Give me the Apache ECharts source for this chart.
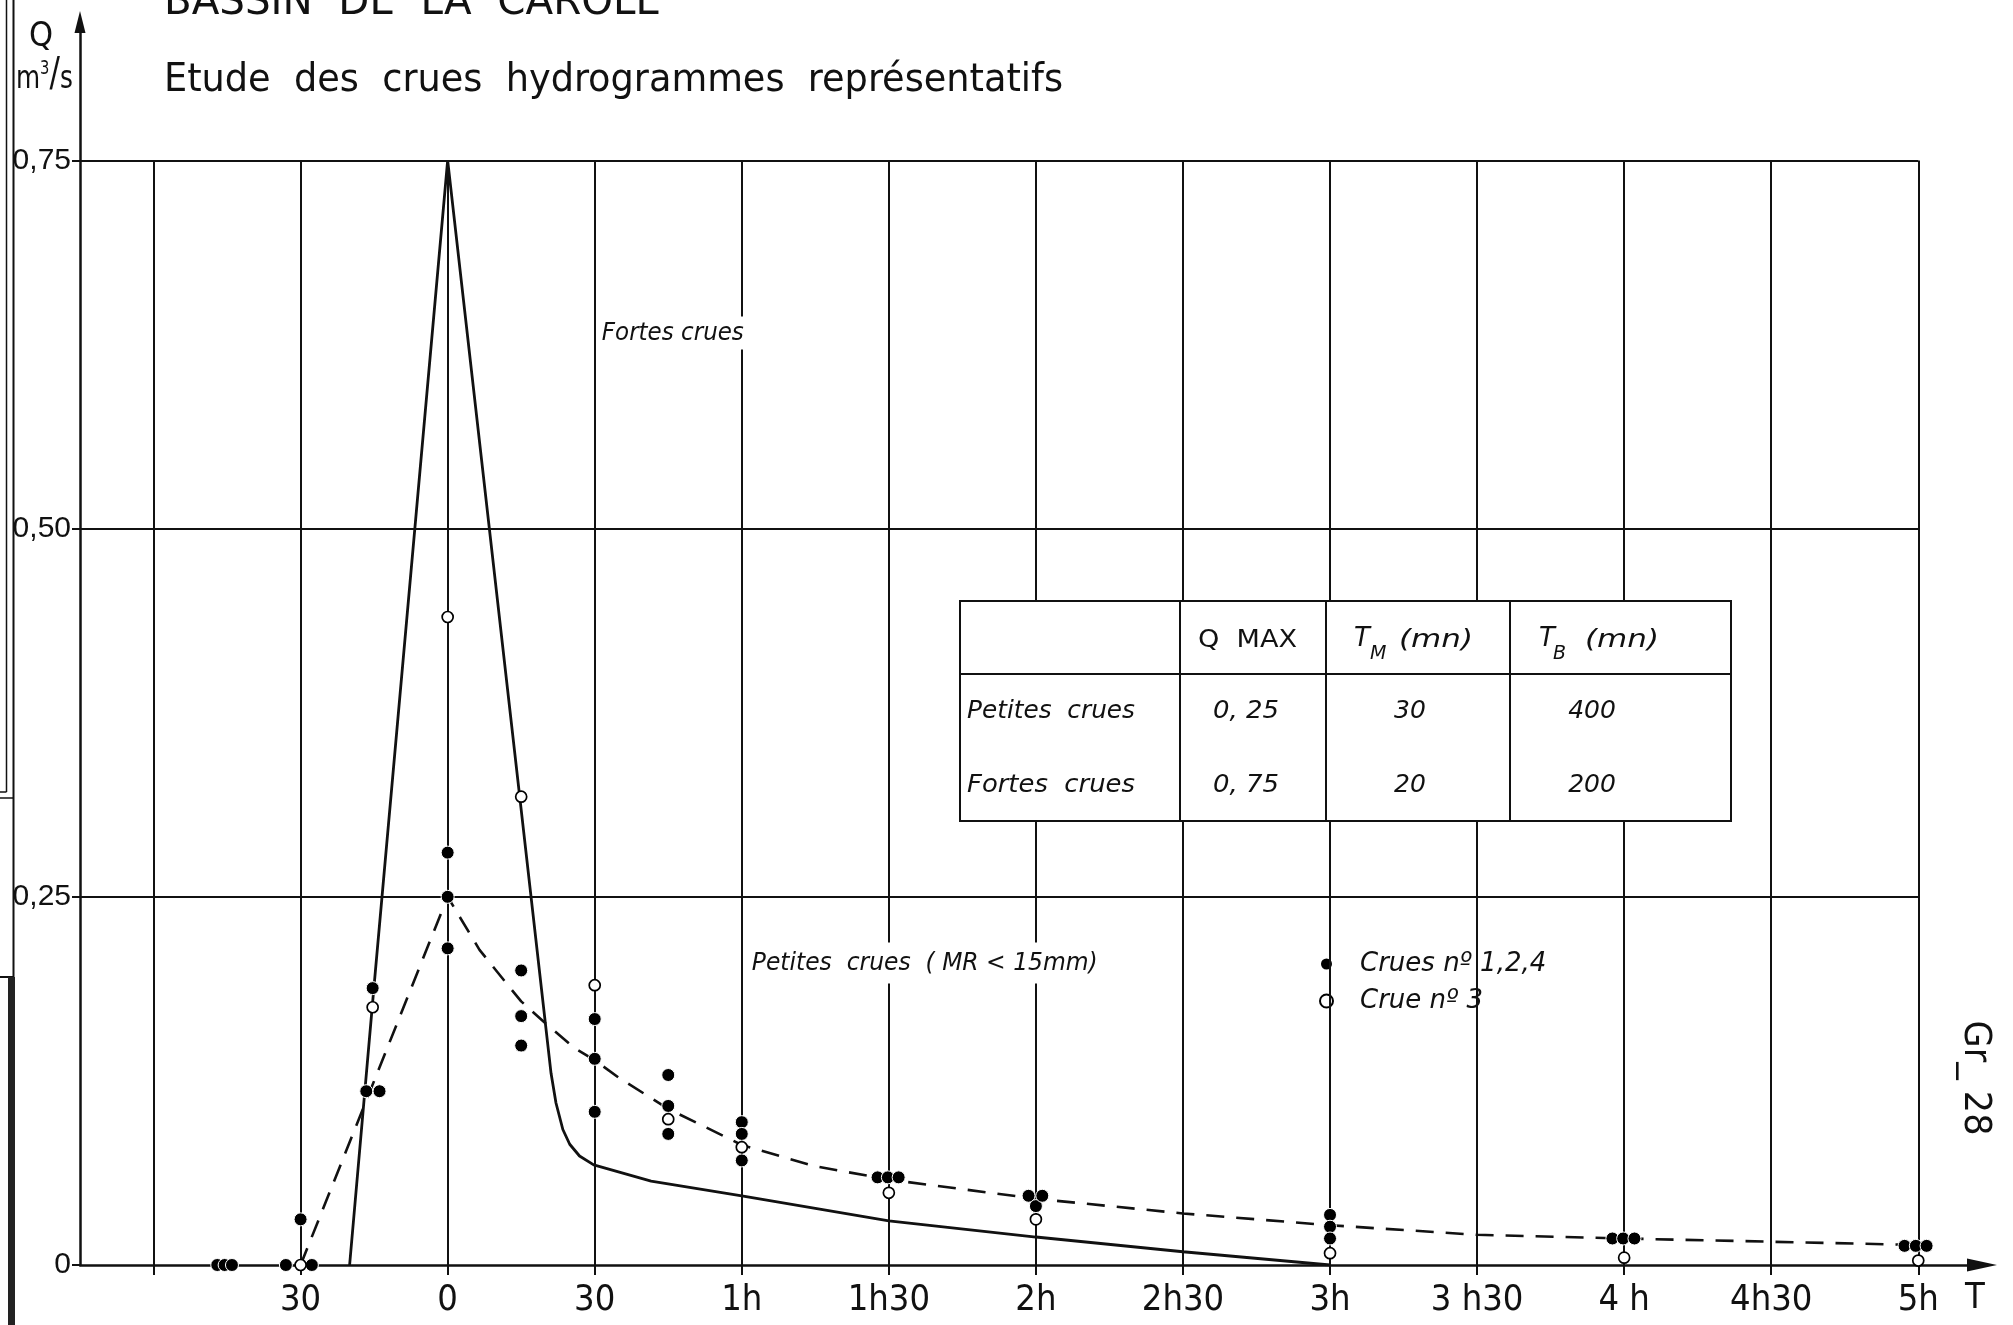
<!DOCTYPE html>
<html>
<head>
<meta charset="utf-8">
<script src="https://cdn.jsdelivr.net/npm/echarts@6/dist/echarts.min.js"></script>
<style>
  html, body { margin: 0; padding: 0; background: #fff; }
  #chart { width: 2013px; height: 1325px; }
</style>
</head>
<body>
<div id="chart"></div>
<script>
// Time axis in minutes relative to the peak, discharge Q in m3/s
const xMin = -75, xMax = 313;
const gridMinutes = [-60, -30, 0, 30, 60, 90, 120, 150, 180, 210, 240, 270, 300];
const tickMinutes = [-30, 0, 30, 60, 90, 120, 150, 180, 210, 240, 270, 300];
const tickLabels = ['30', '0', '30', '1h', '1h30', '2h', '2h30', '3h', '3 h30', '4 h', '4h30', '5h'];
const qTicks = [0, 0.25, 0.5, 0.75];
const qLabels = ['0', '0,25', '0,50', '0,75'];
const yMax = 0.844;

// Representative hydrograph, large floods (solid)
const fortesT = [-20, -15, 0, 21.1, 22.1, 23.5, 24.9, 26.9, 29.8, 41.5, 60, 90, 120, 150, 180];
const fortesQ = [0, 0.19, 0.75, 0.13, 0.11, 0.092, 0.082, 0.074, 0.068, 0.057, 0.047, 0.030, 0.019, 0.009, 0];

// Representative hydrograph, small floods (dashed)
const petitesT = [-30, 0, 6.5, 12.3, 15, 20, 26, 30, 35, 45, 60, 75, 90, 120, 150, 180, 210, 240, 270, 300];
const petitesQ = [0, 0.25, 0.214, 0.19, 0.179, 0.164, 0.147, 0.139, 0.127, 0.106, 0.0815, 0.067, 0.058, 0.045, 0.035, 0.027, 0.0205, 0.018, 0.0158, 0.0136];

// Observed floods no 1, 2, 4 (filled dots)
const crues124T = [-47, -45.5, -44, -33, -30, -27.7, -16.6, -15.3, -13.9, 0, 0, 0, 15, 15, 15, 30, 30, 30,
  45, 45, 45, 60, 60, 60, 87.7, 89.8, 92, 118.5, 120, 121.3, 180, 180, 180, 237.6, 239.8, 242.1, 297.2, 299.5, 301.7];
const crues124Q = [0, 0, 0, 0, 0.031, 0, 0.118, 0.188, 0.118, 0.280, 0.250, 0.215, 0.200, 0.169, 0.149, 0.167, 0.140, 0.104,
  0.129, 0.108, 0.089, 0.097, 0.089, 0.071, 0.0595, 0.0595, 0.0595, 0.047, 0.040, 0.047, 0.034, 0.026, 0.018, 0.018, 0.018, 0.018, 0.013, 0.013, 0.013];

// Observed flood no 3 (open dots)
const crue3T = [-30, -15.3, 0, 15, 30, 45, 60, 90, 120, 180, 240, 300];
const crue3Q = [0, 0.175, 0.44, 0.318, 0.19, 0.099, 0.080, 0.049, 0.031, 0.008, 0.005, 0.003];

// Summary table
const tableHead = ['Q  MAX', 'T', 'M', '(mn)', 'T', 'B', '(mn)'];
const tableRows = ['Petites  crues', 'Fortes  crues'];
const tableQmax = ['0, 25', '0, 75'];
const tableTm = ['30', '20'];
const tableTb = ['400', '200'];

const zip = (a, b) => a.map((v, i) => [v, b[i]]);

const NARROW = '"Liberation Sans Narrow", "DejaVu Sans Condensed", sans-serif';
const ITAL = '"DejaVu Sans", "Liberation Sans", sans-serif';
const INK = '#111';

const measureCtx = document.createElement('canvas').getContext('2d');
function fitScale(text, font, target) {
  measureCtx.font = font;
  return target / measureCtx.measureText(text).width;
}
function label(text, x, y, o) {
  const font = (o.italic ? 'italic ' : '') + o.size + 'px ' + o.family;
  const el = {
    type: 'text', x: x, y: y, z: 100,
    rotation: o.rotation || 0,
    scaleX: o.width ? fitScale(text, font, o.width) : 1,
    style: {
      text: text, font: font, fill: INK,
      align: o.align || 'left', verticalAlign: o.valign || 'middle',
      textAlign: o.align || 'left', textVerticalAlign: o.valign || 'middle'
    }
  };
  if (o.bg) { el.style.backgroundColor = o.bg; el.style.padding = o.pad || [3, 3]; }
  return el;
}
function seg(x1, y1, x2, y2, w, c) {
  return { type: 'line', z: 100, shape: { x1, y1, x2, y2 }, style: { stroke: c || INK, lineWidth: w } };
}

// Grid lines drawn as mark lines
const gridData = [];
gridMinutes.forEach(m => gridData.push([{ coord: [m, 0] }, { coord: [m, qTicks[qTicks.length - 1]] }]));
qTicks.slice(1).forEach(q => gridData.push([{ coord: [xMin, q] }, { coord: [gridMinutes[gridMinutes.length - 1], q] }]));

// Table geometry
const tb = { x: 960, y: 601, w: 771, h: 220, cols: [1180, 1326, 1510], head: 674 };
const rowY = [711.5, 785];
const tableEls = [
  { type: 'rect', z: 99, shape: { x: tb.x, y: tb.y, width: tb.w, height: tb.h }, style: { fill: '#fff', stroke: INK, lineWidth: 2 } },
  seg(tb.cols[0], tb.y, tb.cols[0], tb.y + tb.h, 2),
  seg(tb.cols[1], tb.y, tb.cols[1], tb.y + tb.h, 2),
  seg(tb.cols[2], tb.y, tb.cols[2], tb.y + tb.h, 2),
  seg(tb.x, tb.head, tb.x + tb.w, tb.head, 2),
  label(tableHead[0], 1198, 640, { size: 25, family: ITAL, width: 99 }),
  label(tableHead[1], 1354, 639, { size: 26, family: ITAL, italic: true }),
  label(tableHead[2], 1370, 654, { size: 19, family: ITAL, italic: true }),
  label(tableHead[3], 1399, 640, { size: 25, family: ITAL, italic: true, width: 74 }),
  label(tableHead[4], 1539, 639, { size: 26, family: ITAL, italic: true }),
  label(tableHead[5], 1553, 654, { size: 19, family: ITAL, italic: true }),
  label(tableHead[6], 1585, 640, { size: 25, family: ITAL, italic: true, width: 74 })
];
tableRows.forEach((r, i) => {
  tableEls.push(label(r, 967, rowY[i], { size: 25, family: ITAL, italic: true, width: 168 }));
  tableEls.push(label(tableQmax[i], 1246, rowY[i], { size: 25, family: ITAL, italic: true, align: 'center', width: 66 }));
  tableEls.push(label(tableTm[i], 1410, rowY[i], { size: 25, family: ITAL, italic: true, align: 'center' }));
  tableEls.push(label(tableTb[i], 1592, rowY[i], { size: 25, family: ITAL, italic: true, align: 'center' }));
});

const chart = echarts.init(document.getElementById('chart'), null, { renderer: 'canvas' });
chart.setOption({
  animation: false,
  backgroundColor: '#fff',
  grid: { left: 80, right: 31, top: 22, bottom: 60, containLabel: false },
  xAxis: {
    type: 'value', min: xMin, max: xMax,
    axisLine: { show: true, onZero: false, symbol: ['none', 'triangle'], symbolSize: [13, 30], lineStyle: { color: INK, width: 2.5 } },
    axisTick: { show: true, customValues: gridMinutes, length: 10, lineStyle: { color: INK, width: 2 } },
    axisLabel: {
      customValues: tickMinutes, margin: 18,
      formatter: v => tickLabels[tickMinutes.indexOf(v)],
      fontFamily: NARROW, fontSize: 36, color: INK
    },
    splitLine: { show: false }
  },
  yAxis: {
    type: 'value', min: 0, max: yMax,
    axisLine: { show: true, onZero: false, symbol: ['none', 'triangle'], symbolSize: [11, 22], lineStyle: { color: INK, width: 2.5 } },
    axisTick: { show: true, customValues: qTicks, length: 8, lineStyle: { color: INK, width: 2 } },
    axisLabel: {
      customValues: qTicks, margin: 9,
      formatter: v => qLabels[qTicks.indexOf(v)],
      fontFamily: '"Liberation Sans", Arial, sans-serif', fontSize: 30, color: INK
    },
    splitLine: { show: false }
  },
  legend: {
    orient: 'vertical', left: 1319, top: 950, padding: 0, itemGap: 9,
    itemWidth: 13, itemHeight: 13,
    data: [{ name: 'Crues nº 1,2,4', icon: 'circle' }, { name: 'Crue nº 3', icon: 'circle' }],
    textStyle: { fontFamily: ITAL, fontStyle: 'italic', fontSize: 26, color: INK, lineHeight: 28,
      padding: [0, 4, 0, 22], backgroundColor: '#fff' },
    selectedMode: false
  },
  series: [
    {
      name: 'grille', type: 'line', z: 1, silent: true, data: [], showSymbol: false,
      markLine: {
        silent: true, symbol: ['none', 'none'], animation: false,
        label: { show: false },
        lineStyle: { color: INK, width: 2, type: 'solid' },
        emphasis: { disabled: true },
        data: gridData
      }
    },
    {
      name: 'Fortes crues', type: 'line', z: 3, data: zip(fortesT, fortesQ),
      showSymbol: false, lineStyle: { color: INK, width: 2.8 }, silent: true
    },
    {
      name: 'Petites crues', type: 'line', z: 3, data: zip(petitesT, petitesQ),
      showSymbol: false, lineStyle: { color: INK, width: 2.6, type: [18, 12] }, silent: true
    },
    {
      name: 'Crues nº 1,2,4', type: 'scatter', z: 5, data: zip(crues124T, crues124Q),
      symbol: 'circle', symbolSize: 13,
      itemStyle: { color: '#000', borderColor: '#fff', borderWidth: 1, opacity: 1 }
    },
    {
      name: 'Crue nº 3', type: 'scatter', z: 6, data: zip(crue3T, crue3Q),
      symbol: 'circle', symbolSize: 11,
      itemStyle: { color: '#fff', borderColor: '#000', borderWidth: 1.7, opacity: 1 }
    }
  ],
  graphic: { elements: [
    // headings
    label('BASSIN  DE  LA  CAROLE', 164, 24, { size: 40, family: NARROW, valign: 'bottom', width: 497 }),
    label('Etude  des  crues  hydrogrammes  représentatifs', 164, 81, { size: 39, family: NARROW, width: 899 }),
    // axis captions
    label('Q', 41, 37, { size: 34, family: NARROW, align: 'center' }),
    { type: 'text', x: 16, y: 78, z: 100, scaleX: 0.86, style: {
        text: '{a|m}{b|3}{c|/}{a|s}', fill: INK, align: 'left', verticalAlign: 'middle',
        textAlign: 'left', textVerticalAlign: 'middle',
        rich: {
          a: { fontFamily: NARROW, fontSize: 32, lineHeight: 36, verticalAlign: 'bottom' },
          b: { fontFamily: NARROW, fontSize: 19, lineHeight: 36, verticalAlign: 'top' },
          c: { fontFamily: NARROW, fontSize: 40, lineHeight: 36, verticalAlign: 'bottom' }
        } } },
    label('T', 1975, 1299, { size: 36, family: NARROW, align: 'center' }),
    label('Gr_ 28', 1975, 1078, { size: 37, family: NARROW, align: 'center', rotation: -Math.PI / 2, width: 115 }),
    // curve captions
    label('Fortes crues', 600, 333, { size: 25, family: ITAL, italic: true, width: 142, bg: '#fff', pad: [4, 2] }),
    label('Petites  crues  ( MR < 15mm)', 748, 963, { size: 25, family: ITAL, italic: true, width: 346, bg: '#fff', pad: [8, 4] }),
    // page edge
    seg(6.5, 0, 6.5, 792, 1.5),
    seg(0, 792, 6.5, 792, 1.5),
    seg(13.5, 0, 13.5, 977, 2),
    seg(0, 798, 13.5, 798, 1.5),
    seg(0, 977, 13.5, 977, 2),
    seg(11.5, 977, 11.5, 1325, 7, '#222')
  ].concat(tableEls) }
});
</script>
</body>
</html>
